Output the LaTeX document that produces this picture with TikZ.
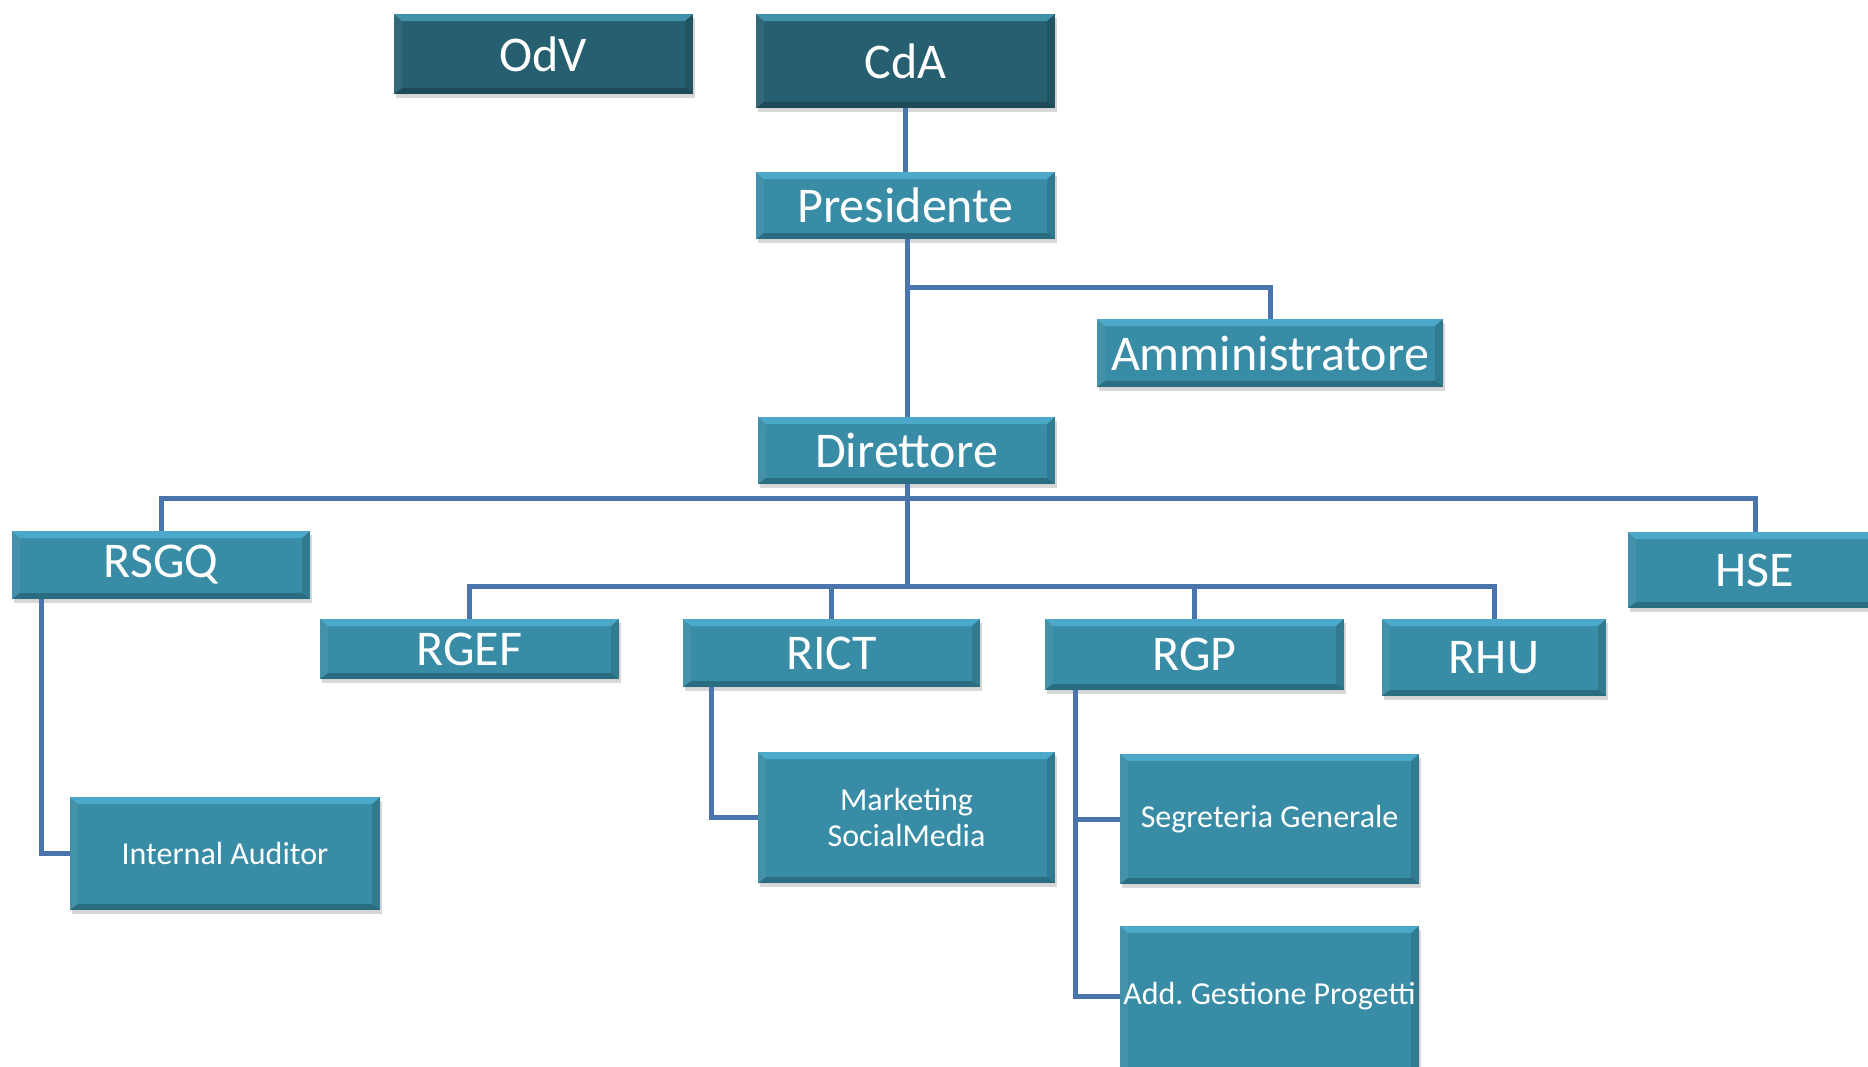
\documentclass[tikz,border=0pt]{standalone}
\usepackage{fontspec}
\setmainfont{Carlito}
\usetikzlibrary{shadows}
\definecolor{boxlight}{RGB}{56,140,165}
\definecolor{boxdark}{RGB}{38,95,111}
\definecolor{linkblue}{RGB}{74,116,172}
\newcommand{\bevel}{%
  \coordinate (nw) at (path picture bounding box.north west);
  \coordinate (ne) at (path picture bounding box.north east);
  \coordinate (sw) at (path picture bounding box.south west);
  \coordinate (se) at (path picture bounding box.south east);
  \fill[cyan!60!white,opacity=.45] (nw) -- (ne) -- ([xshift=-4pt,yshift=-3.5pt]ne) -- ([xshift=4pt,yshift=-3.5pt]nw) -- cycle;
  \fill[black,opacity=.22] (sw) -- (se) -- ([xshift=-4pt,yshift=3pt]se) -- ([xshift=4pt,yshift=3pt]sw) -- cycle;
  \fill[white,opacity=.06] (nw) -- ([xshift=4pt,yshift=-3.5pt]nw) -- ([xshift=4pt,yshift=3pt]sw) -- (sw) -- cycle;
  \fill[black,opacity=.12] (ne) -- ([xshift=-4pt,yshift=-3.5pt]ne) -- ([xshift=-4pt,yshift=3pt]se) -- (se) -- cycle;}
\tikzstyle{unit} = [fill=boxlight, text=white, inner sep=0pt, font=\fontsize{25}{28}\selectfont,
  drop shadow={shadow xshift=1pt, shadow yshift=-2pt, opacity=.3}, path picture=\bevel]
\tikzstyle{board} = [unit, fill=boxdark]
\tikzstyle{small} = [unit, font=\fontsize{16}{18}\selectfont, align=center]
\tikzstyle{link} = [draw=linkblue, line width=2.5pt]
\tikzset{sz/.style 2 args={minimum width=#1*0.5pt, minimum height=#2*0.5pt}}

\begin{document}
\begin{tikzpicture}[x=0.5pt,y=-0.5pt]
  \fill[white] (0,0) rectangle (1868,1066);
  \useasboundingbox (0,0) rectangle (1868,1066);
  \clip (0,0) rectangle (1868,1066);
  % top
  \node[board,sz={299}{80}] (odv) at (543.5,54) {OdV};
  \node[board,sz={299}{94}] (cda) at (905.5,61) {CdA};
  \node[unit,sz={299}{67}] (pres) at (905.5,205.5) {Presidente};
  \node[unit,sz={346}{68}] (amm) at (1270,353) {Amministratore};
  \node[unit,sz={297}{67}] (dir) at (906.5,450.5) {Direttore};
  % staff
  \node[unit,sz={298}{68}] (rsgq) at (161,565) {RSGQ};
  \node[unit,sz={254}{76}] (hse) at (1755,570) {HSE};
  \node[unit,sz={299}{60}] (rgef) at (469.5,649) {RGEF};
  \node[unit,sz={297}{68}] (rict) at (831.5,653) {RICT};
  \node[unit,sz={299}{71}] (rgp) at (1194.5,654.5) {RGP};
  \node[unit,sz={224}{77}] (rhu) at (1494,657.5) {RHU};
  % offices
  \node[small,sz={310}{113}] (ia) at (225,853.5) {Internal Auditor};
  \node[small,sz={297}{131}] (mkt) at (906.5,817.5) {Marketing\\SocialMedia};
  \node[small,sz={299}{130}] (seg) at (1269.5,819) {Segreteria Generale};
  \node[small,sz={299}{156}] (agp) at (1269.5,1004) {};
  \node[font=\fontsize{16}{18}\selectfont,text=white] (agpt) at (1269.5,996) {Add.\ Gestione Progetti};
  % connectors
  \coordinate (b1) at (907,287);
  \coordinate (b2) at (907,498);
  \coordinate (b3) at (907,586);
  \draw[link] (cda) -- (pres);
  \draw[link] (pres.south -| b1) -- (dir.north -| b1);
  \draw[link] (b1) -| (amm.north);
  \draw[link] (rsgq.north) |- (b2) -| (hse.north);
  \draw[link] (dir.south -| b3) -- (b3);
  \draw[link] (rgef.north) |- (b3) -| (rhu.north);
  \draw[link] (rict.north) -- (rict.north |- b3);
  \draw[link] (rgp.north) -- (rgp.north |- b3);
  \draw[link] ([xshift=15pt]rsgq.south west) |- (ia.west);
  \draw[link] ([xshift=14.5pt]rict.south west) |- (mkt.west);
  \draw[link] ([xshift=15.5pt]rgp.south west) |- (seg.west);
  \draw[link] ([xshift=15.5pt]rgp.south west) |- (agp.west |- agpt);
\end{tikzpicture}
\end{document}
